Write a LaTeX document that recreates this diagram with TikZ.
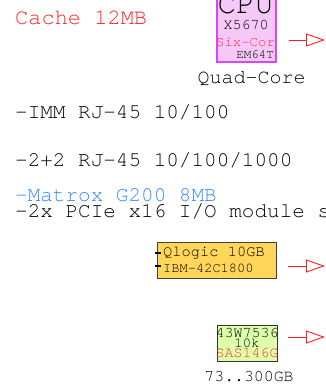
\documentclass[tikz,border=0pt]{standalone}
\usepackage{fontspec}
\setmainfont{TeX Gyre Cursor}
\usetikzlibrary{arrows.meta}
\definecolor{cachered}{RGB}{255,32,32}
\definecolor{matblue}{RGB}{51,136,255}
\definecolor{cpufill}{RGB}{245,200,248}
\definecolor{cpuedge}{RGB}{215,70,250}
\definecolor{sixred}{RGB}{255,45,60}
\definecolor{goldfill}{RGB}{255,214,90}
\definecolor{greenfill}{RGB}{221,255,170}
\definecolor{linkred}{RGB}{255,30,30}
\tikzset{
  fs/.style={font=\fontsize{#1}{#1}\selectfont},
  txt/.style={inner sep=0pt, anchor=base west},
  ctxt/.style={inner sep=0pt, anchor=base},
  link/.style={draw=linkred, line width=0.9pt, -{Triangle[open, length=19pt, width=13pt]}},
}
\begin{document}
\begin{tikzpicture}[x=1pt,y=-1pt]
\useasboundingbox (0,0) rectangle (326,389);
\clip (0,0) rectangle (326,389);
\fill[white] (0,0) rectangle (326,389);
% left texts
\node[txt, fs=22, text=cachered] (cache) at (15,24) {Cache 12MB};
\node[txt, fs=21] (imm) at (15,118) {-IMM RJ-45 10/100};
\node[txt, fs=21] (eth) at (15,166) {-2+2 RJ-45 10/100/1000};
\node[txt, fs=21, text=matblue] (mat) at (15,201) {-Matrox G200 8MB};
\node[txt, fs=21] (pcie) at (15,217) {-2x PCIe x16 I/O module s};
% CPU box
\draw[fill=cpufill, draw=cpuedge, line width=2pt] (217,-10) rectangle (276,62);
\node[ctxt, fs=31] (cpu) at (245.5,13) {CPU};
\node[ctxt, fs=15] (x5670) at (246,29.5) {X5670};
\node[ctxt, fs=14, text=sixred] (six) at (245.5,46) {Six-Cor};
\node[inner sep=0pt, anchor=base east, fs=12.5] (em) at (274,58) {EM64T};
\node[ctxt, fs=20] (quad) at (251.5,83) {Quad-Core};
\coordinate (a1s) at (289,40);
\coordinate (a1e) at (325,40);
\draw[link] (a1s) -- (a1e);
% Qlogic box
\node[draw=black!75, fill=goldfill, line width=0.8pt, minimum width=119pt, minimum height=36pt, inner sep=0pt] (ql) at (216.5,260) {};
\node[txt, fs=15.4] (ql1) at (163,256) {Qlogic 10GB};
\node[txt, fs=13.7] (ql2) at (163,272) {IBM-42C1800};
\draw[line width=1.6pt] (155,253) -- (161,253);
\draw[line width=1.6pt] (155,266) -- (161,266);
\coordinate (a2s) at (288,266);
\coordinate (a2e) at (325,266);
\draw[link] (a2s) -- (a2e);
% green box
\node[draw=black!80, fill=greenfill, line width=0.8pt, minimum width=60pt, minimum height=36pt, inner sep=0pt] (hd) at (247,343) {};
\node[ctxt, fs=15] (hd1) at (247,337) {43W7536};
\node[ctxt, fs=14] (hd2) at (247,347.5) {10k};
\node[ctxt, fs=15, text=sixred] (hd3) at (247,357.5) {SAS146G};
\node[ctxt, fs=16.5] (cap) at (249,381) {73..300GB};
\coordinate (a3s) at (288,337);
\coordinate (a3e) at (325,337);
\draw[link] (a3s) -- (a3e);
\end{tikzpicture}
\end{document}
